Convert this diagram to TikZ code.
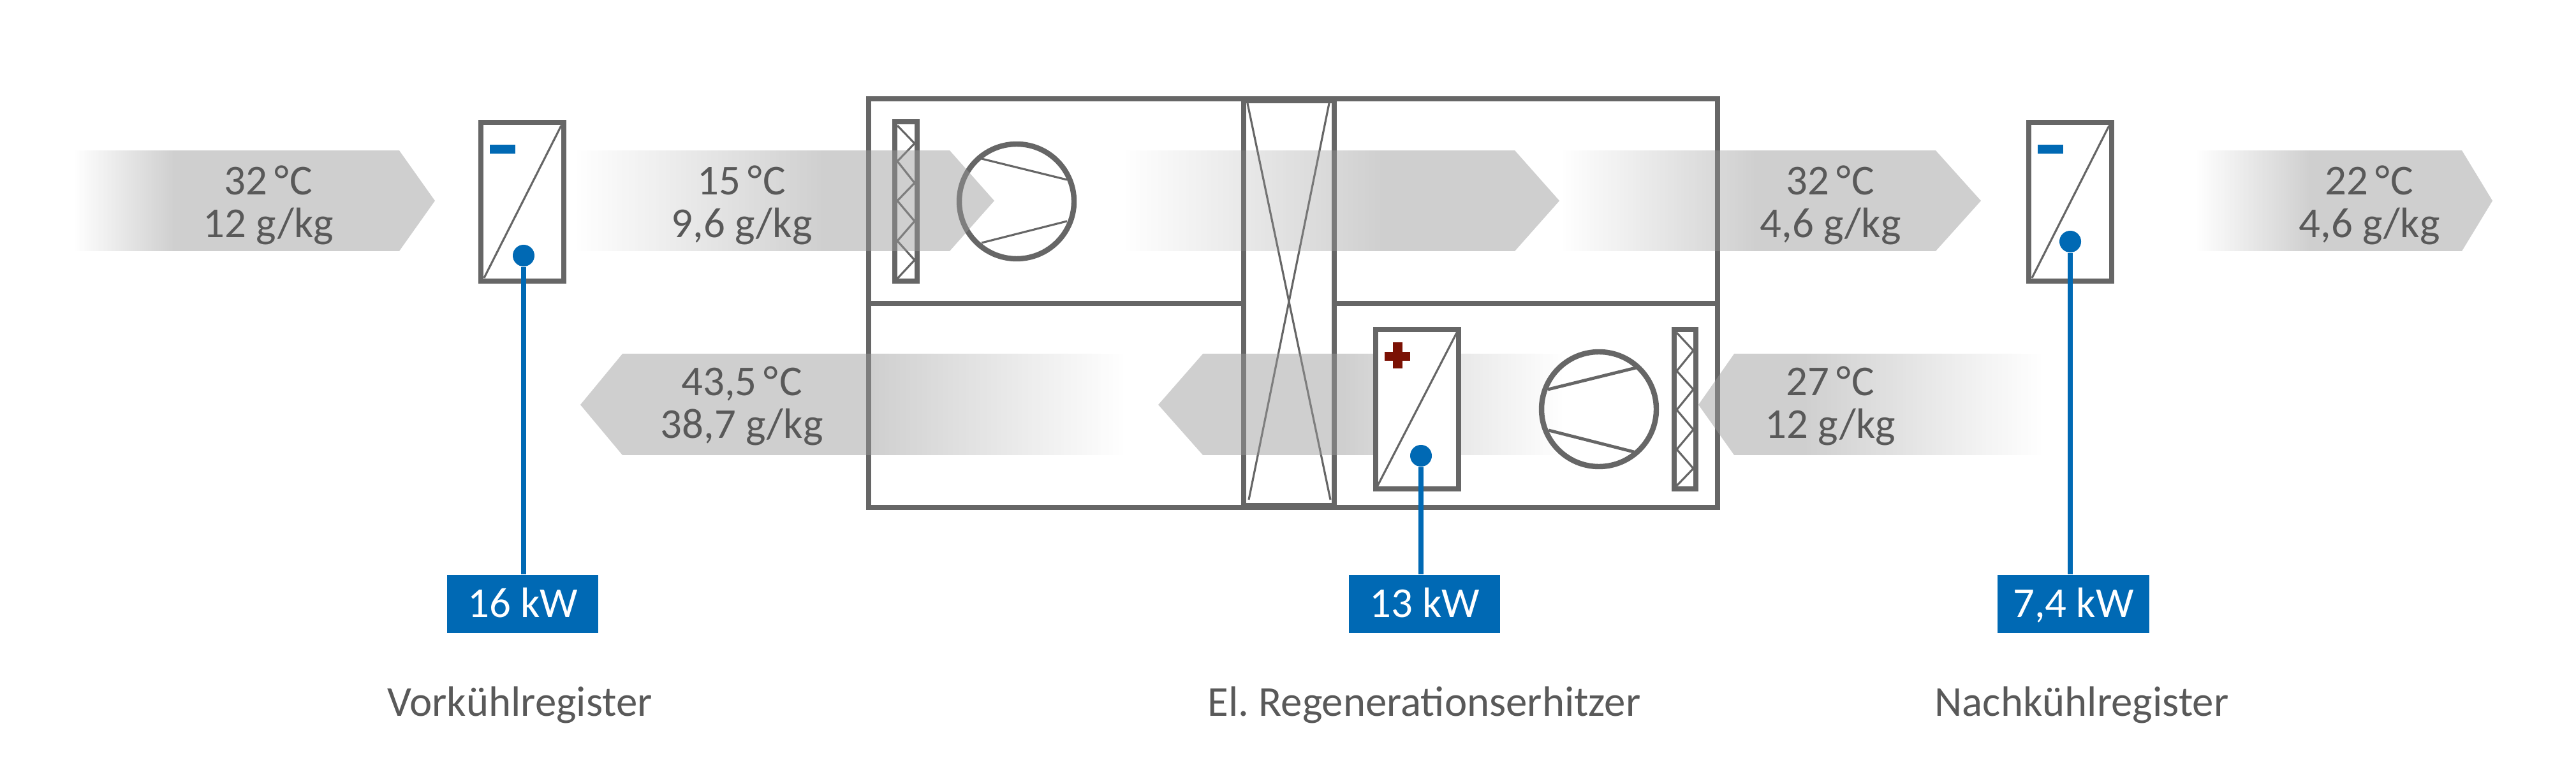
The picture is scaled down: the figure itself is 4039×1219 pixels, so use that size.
\documentclass[tikz,border=0pt]{standalone}
\usepackage{fontspec}
\setmainfont{Carlito}
\usetikzlibrary{fadings}
\definecolor{wallgray}{HTML}{666666}
\definecolor{airgray}{HTML}{9A9A9A}
\definecolor{textgray}{HTML}{595959}
\definecolor{coolblue}{HTML}{0069B4}
\definecolor{heatred}{HTML}{7B1104}
\newcommand{\airin}[2]{%
  \pgfdeclarehorizontalshading{#1}{100bp}{color(0bp)=(pgftransparent!100); color(25bp)=(pgftransparent!100); color(#2bp)=(pgftransparent!0); color(100bp)=(pgftransparent!0)}%
  \pgfdeclarefading{#1}{\pgfuseshading{#1}}}
\newcommand{\airout}[2]{%
  \pgfdeclarehorizontalshading{#1}{100bp}{color(0bp)=(pgftransparent!0); color(#2bp)=(pgftransparent!0); color(75bp)=(pgftransparent!100); color(100bp)=(pgftransparent!100)}%
  \pgfdeclarefading{#1}{\pgfuseshading{#1}}}
\newcommand{\degC}{\,°\kern0.5pt C}
\airin{airA}{39}
\airin{airB}{55}
\airin{airC}{55}
\airin{airD}{48.5}
\airin{airE}{44.5}
\airout{airF}{40}
\airout{airG}{47.5}
\airout{airH}{51.5}
\tikzset{
  wall/.style={draw=wallgray,line width=2.4pt},
  thinwall/.style={draw=wallgray,line width=0.9pt},
  air/.style={fill=airgray,opacity=0.48},
  airtext/.style={text=textgray,align=center,inner sep=0pt,font=\fontsize{19}{19}\selectfont},
  caption/.style={text=textgray,anchor=base,inner sep=0pt,font=\frenchspacing\fontsize{19}{19}\selectfont},
  power/.style={fill=coolblue,text=white,minimum width=2.37cm,minimum height=0.91cm,inner sep=0pt,text height=0.42cm,text depth=0pt,font=\fontsize{19}{19}\selectfont},
  valve/.style={circle,fill=coolblue,minimum size=0.34cm,inner sep=0pt},
  supply/.style={draw=coolblue,line width=2.3pt}
}
\begin{document}
\begin{tikzpicture}[x=0.01cm,y=-0.01cm]
  \useasboundingbox(0,0)rectangle(4039,1219);
  % casing
  \draw[wall](1362,155)rectangle(2693,796);
  \draw[wall](1362,476)--(1950,476);
  \draw[wall](2092,476)--(2693,476);
  % exchanger
  \draw[wall](1950,158)rectangle(2092,793);
  \draw[thinwall](1956,162)--(2086,784);
  \draw[thinwall](2084,162)--(1958,784);
  % filters
  \draw[wall](1403,191)rectangle(1438,441);
  \draw[thinwall](1407,197)--(1434,225)--(1407,253)--(1434,287)--(1407,315)--(1434,347)--(1407,378)--(1434,408)--(1407,437);
  \draw[wall](2625,517)rectangle(2659,767);
  \draw[thinwall](2629,522)--(2655,550)--(2629,582)--(2655,611)--(2629,643)--(2655,674)--(2629,705)--(2655,735)--(2629,762);
  % fans
  \draw[wall](1594,316)circle(90);
  \draw[thinwall](1539,249)--(1673,282);
  \draw[thinwall](1539,381)--(1673,347);
  \draw[wall](2507,642)circle(90);
  \draw[draw=wallgray,line width=1.4pt](2427,611)--(2565,577);
  \draw[draw=wallgray,line width=1.4pt](2428,675)--(2562,709);
  % air
  \fill[air,path fading=airA](116,236)--(626,236)--(682,315)--(626,394)--(116,394)--cycle;
  \fill[air,path fading=airB](900,236)--(1489,236)--(1559,315)--(1489,394)--(900,394)--cycle;
  \fill[air,path fading=airC](1760,236)--(2375,236)--(2445,315)--(2375,394)--(1760,394)--cycle;
  \fill[air,path fading=airD](2447,236)--(3035,236)--(3106,315)--(3035,394)--(2447,394)--cycle;
  \fill[air,path fading=airE](3443,236)--(3860,236)--(3908,315)--(3860,394)--(3443,394)--cycle;
  \fill[air,path fading=airF](3204,555)--(2719,555)--(2663,635)--(2719,714)--(3204,714)--cycle;
  \fill[air,path fading=airG](2452,555)--(1886,555)--(1816,635)--(1886,714)--(2452,714)--cycle;
  \fill[air,path fading=airH](1764,555)--(976,555)--(910,635)--(976,714)--(1764,714)--cycle;
  % coils
  \draw[wall,fill=white](754,192)rectangle(884,441);
  \draw[thinwall](759,436)--(880,197);
  \fill[coolblue](768,227)rectangle(808,241);
  \draw[wall,fill=white](3181,192)rectangle(3311,441);
  \draw[thinwall](3186,436)--(3307,197);
  \fill[coolblue](3195,227)rectangle(3235,241);
  \draw[wall,fill=white](2157,517)rectangle(2287,767);
  \draw[thinwall](2160,762)--(2284,522);
  \fill[heatred](2171,552)rectangle(2211,566);
  \fill[heatred](2184,537)rectangle(2199,578);
  % air values
  \node[airtext](T1)at(421,322){32\degC\\12 g/kg};
  \node[airtext](T2)at(1163,322){15\degC\\9,6 g/kg};
  \node[airtext](T3)at(2870,322){32\degC\\4,6 g/kg};
  \node[airtext](T4)at(3715,322){22\degC\\4,6 g/kg};
  \node[airtext](T5)at(2870,637){27\degC\\12 g/kg};
  \node[airtext](T6)at(1163,637){43,5\degC\\38,7 g/kg};
  % power
  \node[power](P1)at(819.5,947.5){16 kW};
  \node[power](P2)at(2233.5,947.5){13 kW};
  \node[power](P3)at(3251,947.5){7,4 kW};
  \node[valve](V1)at(821,401){};
  \node[valve](V2)at(2228,715){};
  \node[valve](V3)at(3246,379){};
  \draw[supply](V1)--(V1|-P1.north);
  \draw[supply](V2)--(V2|-P2.north);
  \draw[supply](V3)--(V3|-P3.north);
  % captions
  \node[caption](C1)at(815,1123){Vorkühlregister};
  \node[caption](C2)at(2233,1123){El. Regenerationserhitzer};
  \node[caption](C3)at(3264,1123){Nachkühlregister};
\end{tikzpicture}
\end{document}
